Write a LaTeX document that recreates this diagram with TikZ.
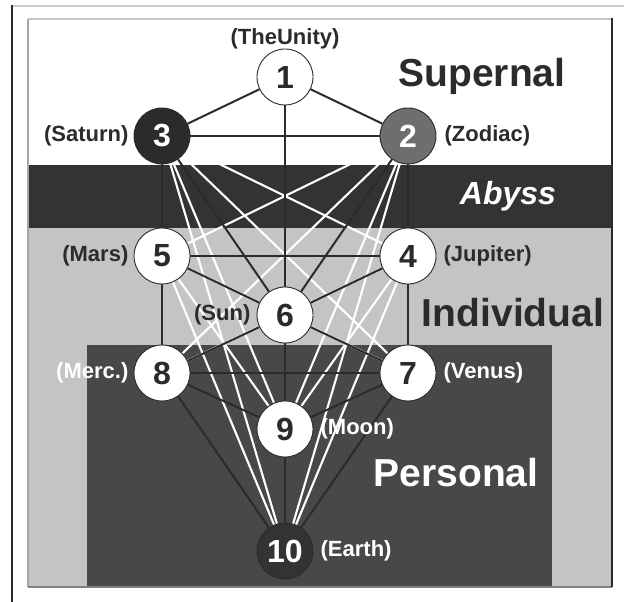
\documentclass[tikz,border=0pt]{standalone}
\usepackage{fontspec}
\setmainfont{Liberation Sans}
\usepackage{xcolor}
\usetikzlibrary{positioning,backgrounds}

\definecolor{inkGray}{HTML}{2B2B2B}
\definecolor{abyssGray}{HTML}{333333}
\definecolor{indivGray}{HTML}{C4C4C4}
\definecolor{persGray}{HTML}{484848}
\definecolor{zodiacGray}{HTML}{6E6E6E}

\begin{document}
\begin{tikzpicture}[
        x=1pt, y=1pt,
        sephiraNode/.style={circle, draw=inkGray, fill=white, line width=0.9pt,
        minimum size=56pt, inner sep=0pt, on grid, text=inkGray,
        font=\fontsize{32}{32}\selectfont\bfseries},
        darkSephira/.style={sephiraNode, fill=inkGray, text=white},
        tagNode/.style={inner sep=1pt, text=inkGray,
        font=\fontsize{22}{22}\selectfont\bfseries},
        realmLabel/.style={anchor=base, inner sep=0pt,
        font=\fontsize{39}{39}\selectfont\bfseries},
        pathLine/.style={draw=inkGray, line width=2pt},
        veilLine/.style={draw=white, line width=2.1pt},
    ]
    \useasboundingbox (0,0) rectangle (624,602);

    \node[sephiraNode] (unity)   at (285,525)                        {1};
    \node[darkSephira] (saturn)  [below left=59pt and 123pt of unity]  {3};
    \node[sephiraNode, fill=zodiacGray, text=white]
                       (zodiac)  [below right=59pt and 123pt of unity] {2};
    \node[sephiraNode] (mars)    [below=120pt of saturn]             {5};
    \node[sephiraNode] (jupiter) [below=120pt of zodiac]             {4};
    \node[sephiraNode] (sun)     [below=238pt of unity]              {6};
    \node[sephiraNode] (merc)    [below=117pt of mars]               {8};
    \node[sephiraNode] (venus)   [below=117pt of jupiter]            {7};
    \node[sephiraNode] (moon)    [below=114pt of sun]                {9};
    \node[darkSephira, fill=abyssGray] (earth) [below=122pt of moon] {10};

    \node[tagNode] (unityTag)   [above=-2pt of unity]  {(TheUnity)};
    \node[tagNode] (saturnTag)  [left=4pt of saturn]   {(Saturn)};
    \node[tagNode] (zodiacTag)  [right=7pt of zodiac]  {(Zodiac)};
    \node[tagNode] (marsTag)    [left=4pt of mars]     {(Mars)};
    \node[tagNode] (jupiterTag) [right=6pt of jupiter] {(Jupiter)};
    \node[tagNode] (sunTag)     [left=5pt of sun]      {(Sun)};
    \node[tagNode, text=white] (mercTag)  [left=4pt of merc]   {(Merc.)};
    \node[tagNode, text=white] (venusTag) [right=6pt of venus] {(Venus)};
    \node[tagNode, text=white] (moonTag)  [right=6pt of moon]  {(Moon)};
    \node[tagNode, text=white] (earthTag) [right=6pt of earth] {(Earth)};

    \node[realmLabel, text=inkGray] (supernal)   at (482,515) {Supernal};
    \node[realmLabel, text=white, font=\fontsize{32}{32}\selectfont\bfseries\itshape]
                                   (abyss)      at (508,397) {Abyss};
    \node[realmLabel, text=inkGray] (individual) at (513,275) {Individual};
    \node[realmLabel, text=white]   (personal)   at (456,115) {Personal};

    \begin{scope}[on background layer]
        % realms
        \fill[white]      (28,437) rectangle (612,583);
        \fill[abyssGray]  (28,374) rectangle (612,437);
        \fill[indivGray]  (28,15)  rectangle (612,374);
        \fill[persGray]   (87,15)  rectangle (552,257);
        % frame
        \draw[gray!40, line width=2pt] (12,596) -- (624,596);
        \draw[inkGray, line width=2pt] (12,0) -- (12,597);
        \draw[gray!45, line width=2.5pt] (28,583) -- (612,583);
        \draw[gray!70, line width=1.5pt] (28,15) -- (28,583);
        \draw[gray, line width=1.5pt] (28,15) -- (612,15);
        \draw[inkGray, line width=1.5pt] (612,15) -- (612,584);
        % hidden paths
        \draw[veilLine] (saturn) -- (jupiter);
        \draw[veilLine] (saturn) -- (venus);
        \draw[veilLine] (saturn) -- (moon);
        \draw[veilLine] (saturn) -- (earth);
        \draw[veilLine] (zodiac) -- (mars);
        \draw[veilLine] (zodiac) -- (merc);
        \draw[veilLine] (zodiac) -- (moon);
        \draw[veilLine] (zodiac) -- (earth);
        \draw[veilLine] (mars) -- (venus);
        \draw[veilLine] (mars) -- (moon);
        \draw[veilLine] (mars) -- (earth);
        \draw[veilLine] (jupiter) -- (merc);
        \draw[veilLine] (jupiter) -- (moon);
        \draw[veilLine] (jupiter) -- (earth);
        % the 22 paths
        \draw[pathLine] (unity) -- (zodiac);
        \draw[pathLine] (unity) -- (saturn);
        \draw[pathLine] (unity) -- (sun);
        \draw[pathLine] (zodiac) -- (saturn);
        \draw[pathLine] (zodiac) -- (jupiter);
        \draw[pathLine] (zodiac) -- (sun);
        \draw[pathLine] (saturn) -- (mars);
        \draw[pathLine] (saturn) -- (sun);
        \draw[pathLine] (jupiter) -- (mars);
        \draw[pathLine] (jupiter) -- (sun);
        \draw[pathLine] (jupiter) -- (venus);
        \draw[pathLine] (mars) -- (sun);
        \draw[pathLine] (mars) -- (merc);
        \draw[pathLine] (sun) -- (venus);
        \draw[pathLine] (sun) -- (merc);
        \draw[pathLine] (sun) -- (moon);
        \draw[pathLine] (venus) -- (merc);
        \draw[pathLine] (venus) -- (moon);
        \draw[pathLine] (venus) -- (earth);
        \draw[pathLine] (merc) -- (moon);
        \draw[pathLine] (merc) -- (earth);
        \draw[pathLine] (moon) -- (earth);
    \end{scope}
\end{tikzpicture}
\end{document}
